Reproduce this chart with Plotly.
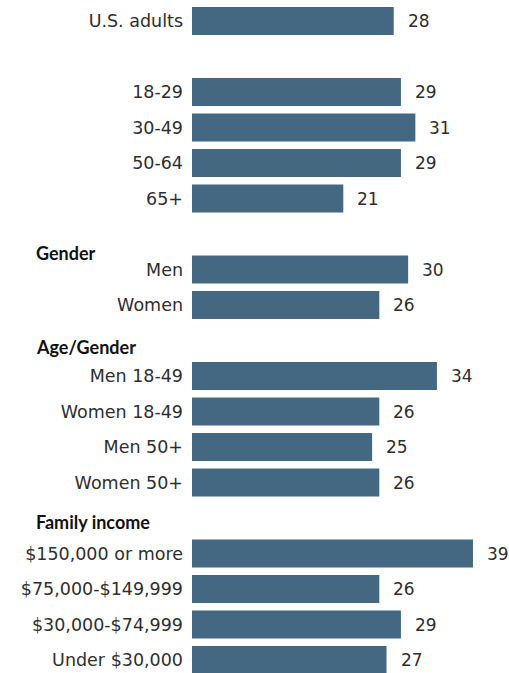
import plotly.graph_objects as go

# Row labels, values and their slot positions (empty slots hold group headings)
labels = [
    "U.S. adults",
    "18-29", "30-49", "50-64", "65+",
    "Men", "Women",
    "Men 18-49", "Women 18-49", "Men 50+", "Women 50+",
    "$150,000 or more", "$75,000-$149,999", "$30,000-$74,999", "Under $30,000",
]
values = [28, 29, 31, 29, 21, 30, 26, 34, 26, 25, 26, 39, 26, 29, 27]
slots = [0, 2, 3, 4, 5, 7, 8, 10, 11, 12, 13, 15, 16, 17, 18]

headings = ["Gender", "Age/Gender", "Family income"]
heading_slots = [6.54, 9.18, 14.11]

BAR = "#456882"
TEXT = "#2e2e2e"
FONT = "DejaVu Sans, Verdana, sans-serif"
HEAD_FONT = "Lato, Roboto, sans-serif"

fig = go.Figure()
fig.add_trace(go.Bar(
    x=values, y=slots, orientation="h",
    marker=dict(color=BAR, line=dict(width=0)),
    width=0.79, hoverinfo="skip",
))

# value labels just past each bar end
for v, s in zip(values, slots):
    fig.add_annotation(
        x=v, y=s, xref="x", yref="y", text=str(v), showarrow=False,
        xanchor="left", yanchor="middle", xshift=12,
        font=dict(family=FONT, size=17, color=TEXT),
    )

# group headings
for h, s in zip(headings, heading_slots):
    fig.add_annotation(
        x=0, y=s, xref="paper", yref="y", text=f"<b>{h}</b>", showarrow=False,
        xanchor="left", yanchor="middle", xshift=-158,
        font=dict(family=HEAD_FONT, size=18, color="#111111"),
    )

fig.update_layout(
    width=509, height=673,
    margin=dict(l=192, r=0, t=0, b=0),
    paper_bgcolor="white", plot_bgcolor="white",
    showlegend=False,
    xaxis=dict(range=[0, 44.0], visible=False, fixedrange=True),
    yaxis=dict(
        range=[18.366, -0.5915],
        tickmode="array", tickvals=slots, ticktext=labels,
        showgrid=False, zeroline=False, showline=False, ticks="",
        ticklabelstandoff=8,
        tickfont=dict(family=FONT, size=17.5, color=TEXT),
        fixedrange=True,
    ),
)

fig.write_html("out.html")
